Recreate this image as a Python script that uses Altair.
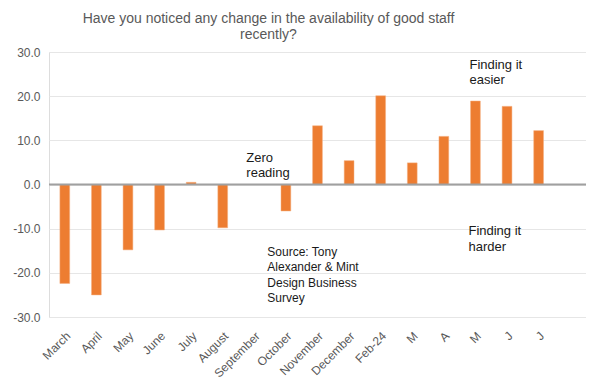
import altair as alt
import pandas as pd

categories = ["March", "April", "May", "June", "July", "August", "September",
              "October", "November", "December", "Feb-24", "M", "A", "M", "J", "J", ""]
values = [-22.4, -25.0, -14.8, -10.3, 0.5, -9.8, 0.0,
          -6.0, 13.3, 5.4, 20.1, 4.9, 10.9, 18.9, 17.7, 12.2, None]

annot_text = [["Zero", "reading"], ["Finding it", "easier"], ["Finding it", "harder"],
              ["Source: Tony", "Alexander  & Mint", "Design Business", "Survey"]]
annot_idx = [6, 13, 13, 6]
annot_y = [5.2, 26.2, -11.5, -16.1]
annot_dx = [-8, -6, -7, 13]
annot_size = [13, 13, 13, 12]

df = pd.DataFrame({"idx": list(range(len(categories))), "cat": categories, "value": values})
ann = pd.DataFrame({"idx": annot_idx, "y": annot_y, "text": annot_text,
                    "dx": annot_dx, "size": annot_size})

label_expr = "[" + ",".join("'" + c + "'" for c in categories) + "][datum.value]"

x = alt.X("idx:O", scale=alt.Scale(domain=list(range(len(categories))), paddingInner=0.69, paddingOuter=0.345),
          axis=alt.Axis(title=None, labelExpr=label_expr, labelAngle=-45, labelFontSize=12,
                        labelColor="#595959", labelFont="Liberation Sans", ticks=False,
                        labelPadding=13, domain=False, grid=False))
y = alt.Y("value:Q", scale=alt.Scale(domain=[-30, 30], nice=False),
          axis=alt.Axis(title=None, values=[-30, -20, -10, 0, 10, 20, 30],
                        labelExpr="(datum.value < 0 ? '-' : '') + format(abs(datum.value), '.1f')",
                        labelFontSize=12, labelColor="#595959", labelFont="Liberation Sans",
                        ticks=False, labelPadding=9, domain=False,
                        gridColor="#e6e6e6", gridWidth=1))

bars = alt.Chart(df).mark_bar(color="#ED7D31", stroke="#F4B183", strokeWidth=0.5).encode(x=x, y=y)

zero = alt.Chart(pd.DataFrame({"z": [0]})).mark_rule(color="#a0a0a0", strokeWidth=2).encode(y="z:Q")

texts = []
for i in range(len(ann)):
    sub = ann.iloc[[i]]
    t = alt.Chart(sub).mark_text(align="left", baseline="alphabetic", fontSize=int(ann["size"][i]),
                                 font="Liberation Sans", color="#1a1a1a",
                                 dx=int(ann["dx"][i]), lineHeight=15.5).encode(
        x=alt.X("idx:O"), y=alt.Y("y:Q"), text="text")
    texts.append(t)

chart = alt.layer(bars, zero, *texts).properties(
    width=537, height=265,
    title=alt.TitleParams(["Have you noticed any change in the availability of good staff", "recently?"],
                          fontSize=14, font="Liberation Sans", fontWeight="normal", color="#595959",
                          anchor="middle", dx=-49, offset=4, lineHeight=16.5),
    autosize=alt.AutoSizeParams(type="none"),
    padding={"left": 41, "top": 44, "right": 0, "bottom": 69},
).configure_view(stroke="#a6a6a6", strokeWidth=2).configure(background="white")

chart.save("out.html", embed_options={"renderer": "svg", "actions": False})
